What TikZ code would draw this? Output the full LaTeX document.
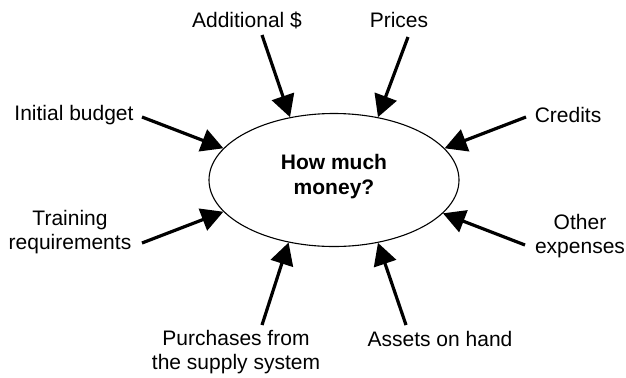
\documentclass[tikz,border=0pt]{standalone}
\usepackage{fontspec}
\setmainfont{Liberation Sans}
\usetikzlibrary{arrows.meta,shapes.geometric}
\begin{document}
\begin{tikzpicture}[x=1bp,y=-1bp,
  lbl/.style={font=\fontsize{21bp}{24.5bp}\selectfont, align=center, inner sep=0pt},
  arr/.style={line width=3.2bp, -{Triangle[length=22bp,width=23bp]}},
  hub/.style={ellipse, draw, line width=1.1bp, minimum width=250bp, minimum height=133bp,
    inner sep=0pt, font=\fontsize{21bp}{25bp}\selectfont\bfseries, align=center}]
\useasboundingbox (0,0) rectangle (626,377);
\node[hub] (c) at (334,180) {};
\node[lbl, font=\fontsize{21bp}{25bp}\selectfont\bfseries] (q) at (334,177) {How much\\money?};

\node[lbl] (add) at (247,20) {Additional \$};
\node[lbl] (pri) at (399,20) {Prices};
\node[lbl] (ini) at (74,115) {Initial budget};
\node[lbl] (cre) at (568,115) {Credits};
\node[lbl] (tra) at (70,232) {Training\\requirements};
\node[lbl] (oth) at (580,236) {Other\\expenses};
\node[lbl] (pur) at (236,352) {Purchases from\\the supply system};
\node[lbl] (ass) at (440,339) {Assets on hand};

\coordinate (tadd) at (262,35);
\coordinate (tpri) at (408,37);
\coordinate (tini) at (142,117);
\coordinate (tcre) at (526,117);
\coordinate (ttra) at (142,243);
\coordinate (toth) at (525,245);
\coordinate (tpur) at (262,325);
\coordinate (tass) at (406,325);

\draw[arr] (tadd) -- (c.125);
\draw[arr] (tpri) -- (c.55);
\draw[arr] (tini) -- (c.164);
\draw[arr] (tcre) -- (c.16);
\draw[arr] (ttra) -- (c.196);
\draw[arr] (toth) -- (c.343);
\draw[arr] (tpur) -- (c.234);
\draw[arr] (tass) -- (c.305);
\end{tikzpicture}
\end{document}
